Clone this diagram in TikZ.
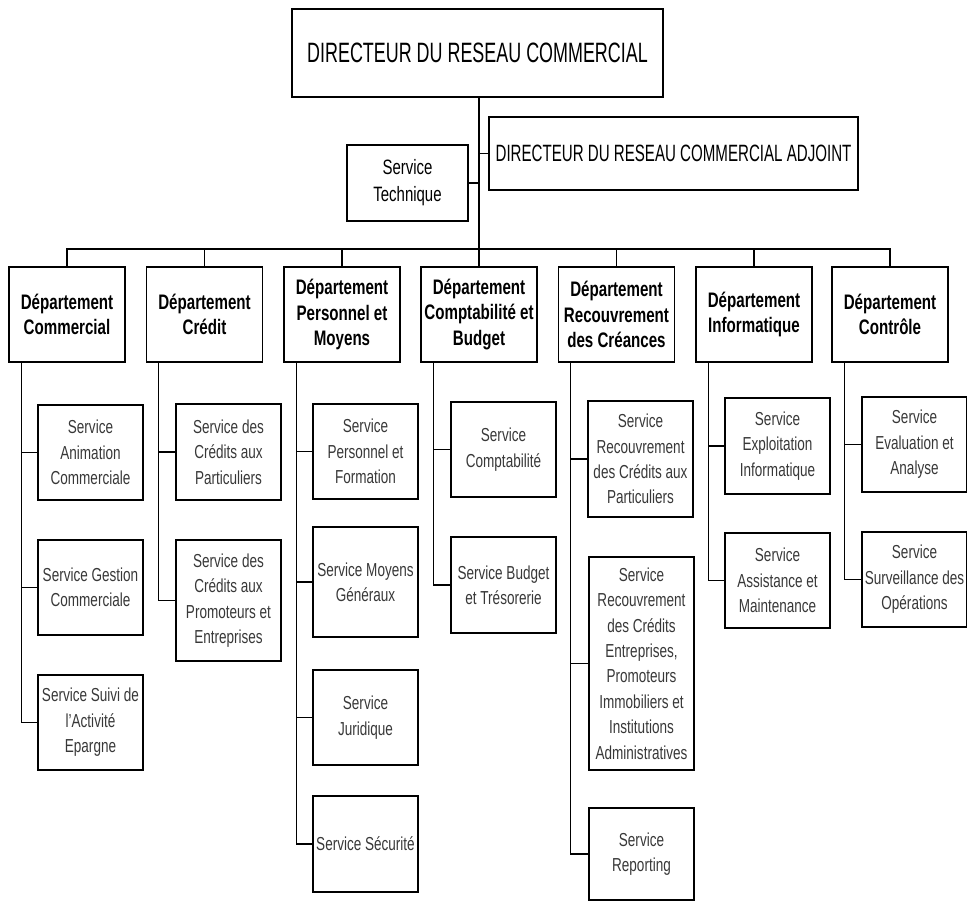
\documentclass[tikz,border=0pt]{standalone}
\usepackage{fontspec}
\setmainfont{Liberation Sans}[FakeStretch=0.72]
\newfontfamily\narrowfont{Liberation Sans}[FakeStretch=0.64]
\usetikzlibrary{calc}
\begin{document}
\begin{tikzpicture}[x=0.5pt,y=-0.5pt,
  box/.style={draw, line width=0.9pt, align=center, inner sep=1pt},
  head/.style={box, font=\narrowfont\fontsize{14pt}{16pt}\selectfont},
  dept/.style={box, font=\bfseries\fontsize{10.5pt}{12.7pt}\selectfont,
               minimum width=58pt, minimum height=47.5pt},
  svc/.style={box, text=black!78, font=\fontsize{9.4pt}{12.7pt}\selectfont,
              minimum width=52.5pt},
  link/.style={line width=0.6pt}]
\useasboundingbox (0,0) rectangle (967,902);

% direction
\node[head, minimum width=185.5pt, minimum height=44pt] (dir) at (477.5,53) {DIRECTEUR DU RESEAU COMMERCIAL};
\node[box, font=\narrowfont\fontsize{11.8pt}{13pt}\selectfont, minimum width=184.5pt, minimum height=36.5pt] (adj) at (673.5,153.5) {DIRECTEUR DU RESEAU COMMERCIAL ADJOINT};
\node[box, font=\fontsize{10.4pt}{13.5pt}\selectfont, minimum width=60.5pt, minimum height=38pt] (tech) at (407.5,183) {Service\\Technique};

% departments
\node[dept] (d0) at (67,314.5)    {Département\\Commercial};
\node[dept] (d1) at (204.5,314.5) {Département\\Crédit};
\node[dept] (d2) at (342,314.5)   {Département\\Personnel et\\Moyens};
\node[dept] (d3) at (479,314.5)   {Département\\Comptabilité et\\Budget};
\node[dept] (d4) at (616.5,314.5) {Département\\Recouvrement\\des Créances};
\node[dept] (d5) at (754,314.5)   {Département\\Informatique};
\node[dept] (d6) at (890,314.5)   {Département\\Contrôle};

% services
\node[svc, minimum height=47.5pt] (s01) at (90.5,452.5) {Service\\Animation\\Commerciale};
\node[svc, minimum height=47.5pt] (s02) at (90.5,587.5) {Service Gestion\\Commerciale};
\node[svc, minimum height=47.5pt] (s03) at (90.5,722.5) {Service Suivi de\\l'Activité\\Epargne};

\node[svc, minimum height=48pt]   (s11) at (228.5,452)   {Service des\\Crédits aux\\Particuliers};
\node[svc, minimum height=60.5pt] (s12) at (228.5,600.5) {Service des\\Crédits aux\\Promoteurs et\\Entreprises};

\node[svc, minimum height=47.5pt] (s21) at (365.5,451.5) {Service\\Personnel et\\Formation};
\node[svc, minimum height=55pt]   (s22) at (365.5,582)   {Service Moyens\\Généraux};
\node[svc, minimum height=47.5pt] (s23) at (365.5,717.5) {Service\\Juridique};
\node[svc, minimum height=48pt]   (s24) at (365.5,844)   {Service Sécurité};

\node[svc, minimum height=47.5pt] (s31) at (503.5,449.5) {Service\\Comptabilité};
\node[svc, minimum height=48pt]   (s32) at (503.5,585)   {Service Budget\\et Trésorerie};

\node[svc, minimum height=58pt]   (s41) at (640.5,459)   {Service\\Recouvrement\\des Crédits aux\\Particuliers};
\node[svc, minimum height=106.5pt] (s42) at (641.5,663.5) {Service\\Recouvrement\\des Crédits\\Entreprises,\\Promoteurs\\Immobiliers et\\Institutions\\Administratives};
\node[svc, minimum height=46pt]   (s43) at (641.5,854)   {Service\\Reporting};

\node[svc, minimum height=48pt]   (s51) at (777.5,446)   {Service\\Exploitation\\Informatique};
\node[svc, minimum height=47.5pt] (s52) at (777.5,580.5) {Service\\Assistance et\\Maintenance};

\node[svc, minimum height=47.5pt] (s61) at (914.5,444.5) {Service\\Evaluation et\\Analyse};
\node[svc, minimum height=47.5pt] (s62) at (914.5,579.5) {Service\\Surveillance des\\Opérations};

% trunk, deputy and technical service
\draw[link] (dir.south -| d3.north) -- (d3.north);
\draw[link] (adj.west -| d3.north) -- (adj.west);
\draw[link] (tech.east) -- (tech.east -| d3.north);

% bus to the departments
\coordinate (bus) at (479,249);
\draw[link] (d0.north) |- (bus) -| (d6.north);
\foreach \d in {d1,d2,d4,d5}
  \draw[link] (\d.north) -- (\d.north |- bus);

% spines under each department
\foreach \d/\last in {d0/s03,d1/s12,d2/s24,d3/s32,d4/s43,d5/s52,d6/s62} {
  \coordinate (sp-\d) at ($(\d.south west)+(13,0)$);
  \draw[link] (sp-\d) |- (\last.west);
}
\foreach \d/\s in {d0/s01,d0/s02,d1/s11,d2/s21,d2/s22,d2/s23,d3/s31,d4/s41,d4/s42,d5/s51,d6/s61}
  \draw[link] (\s.west -| sp-\d) -- (\s.west);
\end{tikzpicture}
\end{document}
